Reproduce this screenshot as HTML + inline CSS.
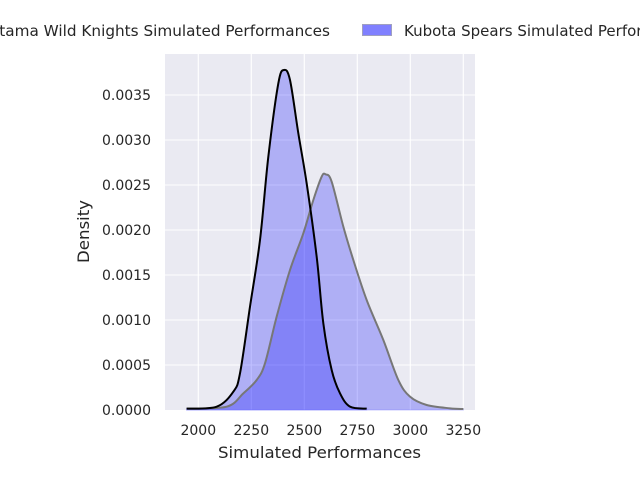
<!DOCTYPE html>
<html><head><meta charset="utf-8"><style>html,body{margin:0;padding:0;background:#fff}svg{display:block}text{font-family:"DejaVu Sans","Liberation Sans",sans-serif;fill:#262626}</style></head>
<body>
<svg id="s" width="640" height="480" viewBox="0 0 640 480">
<rect x="165" y="54" width="310" height="356" fill="#eaeaf2"/>
<g stroke="#fff" stroke-width="1.1">
<line x1="198.3" y1="54" x2="198.3" y2="410"/><line x1="251.3" y1="54" x2="251.3" y2="410"/><line x1="304.3" y1="54" x2="304.3" y2="410"/><line x1="357.3" y1="54" x2="357.3" y2="410"/><line x1="410.3" y1="54" x2="410.3" y2="410"/><line x1="463.3" y1="54" x2="463.3" y2="410"/>
<line x1="165" y1="365" x2="475" y2="365"/><line x1="165" y1="320" x2="475" y2="320"/><line x1="165" y1="275" x2="475" y2="275"/><line x1="165" y1="230" x2="475" y2="230"/><line x1="165" y1="185" x2="475" y2="185"/><line x1="165" y1="140" x2="475" y2="140"/><line x1="165" y1="95" x2="475" y2="95"/>
</g>
<g id="curves"></g>
<g font-size="14" text-anchor="end">
<text x="151" y="415">0.0000</text><text x="151" y="370">0.0005</text><text x="151" y="325">0.0010</text><text x="151" y="280">0.0015</text><text x="151" y="235">0.0020</text><text x="151" y="190">0.0025</text><text x="151" y="145">0.0030</text><text x="151" y="100">0.0035</text>
</g>
<g font-size="14" text-anchor="middle">
<text x="198.3" y="435">2000</text><text x="251.3" y="435">2250</text><text x="304.3" y="435">2500</text><text x="357.3" y="435">2750</text><text x="410.3" y="435">3000</text><text x="463.3" y="435">3250</text>
</g>
<text x="218" y="458" font-size="16.3" textLength="203" lengthAdjust="spacingAndGlyphs">Simulated Performances</text>
<text transform="translate(89,263) rotate(-90)" font-size="16.3" textLength="63" lengthAdjust="spacingAndGlyphs">Density</text>
<text x="-24" y="36" font-size="15" textLength="354" lengthAdjust="spacingAndGlyphs">Saitama Wild Knights Simulated Performances</text>
<rect x="362.5" y="24.5" width="29" height="11" fill="#8080ff" stroke="#a0a0c0"/>
<text x="404" y="36" font-size="15">Kubota Spears Simulated Performances</text>
</svg>
<script>
function conv(a){return a.map(p=>[150+p[0]/3,40+p[1]/3]);}
var black=conv([[110,1106],[200,1100],[250,1055],[270,1000],[300,800],[330,600],[355,350],[385,130],[402,90],[420,120],[445,280],[470,430],[500,650],[520,850],[545,990],[570,1060],[600,1100],[650,1106]]);
var gray=conv([[110,1106],[230,1100],[280,1060],[320,1020],[345,970],[380,830],[420,690],[460,580],[490,480],[515,410],[527,403],[545,425],[580,560],[610,660],[650,780],[700,900],[745,1020],[780,1070],[830,1095],[900,1105],[940,1107]]);
function path(p){var d="M"+p[0][0]+","+p[0][1];for(var i=0;i<p.length-1;i++){var p0=p[i-1]||p[i],p1=p[i],p2=p[i+1],p3=p[i+2]||p2;d+=" C"+(p1[0]+(p2[0]-p0[0])/6)+","+(p1[1]+(p2[1]-p0[1])/6)+" "+(p2[0]-(p3[0]-p1[0])/6)+","+(p2[1]-(p3[1]-p1[1])/6)+" "+p2[0]+","+p2[1];}return d;}
var g=document.getElementById("curves"),h="";
[black,gray].forEach(function(p){var d=path(p);h+='<path d="'+d+' L'+p[p.length-1][0]+',410 L'+p[0][0]+',410Z" fill="rgba(0,0,255,0.25)" stroke="rgba(120,120,255,0.4)" stroke-width="1"/>';});
h+='<path d="'+path(gray)+'" fill="none" stroke="#777" stroke-width="2"/>';
h+='<path d="'+path(black)+'" fill="none" stroke="#000" stroke-width="2"/>';
g.innerHTML=h;
</script>
</body></html>
